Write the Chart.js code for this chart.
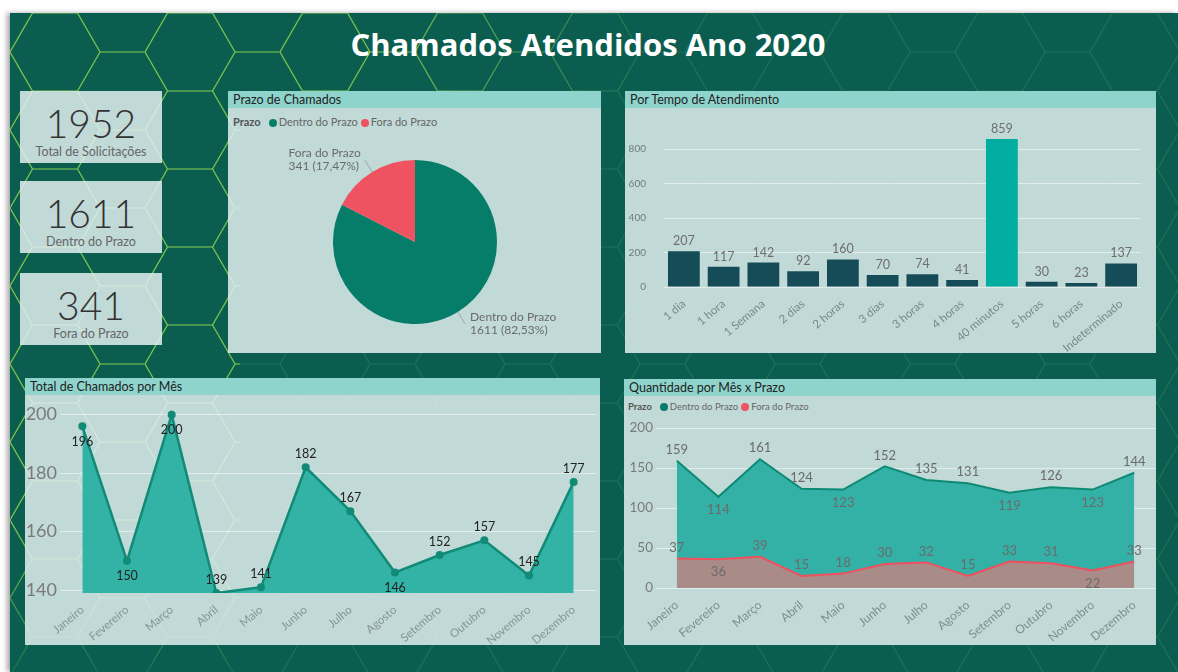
<!DOCTYPE html>
<html>
<head>
<meta charset="utf-8">
<script src="https://cdn.jsdelivr.net/npm/chart.js@4.4.1/dist/chart.umd.min.js"></script>
<style>
body { margin: 0; width: 1178px; height: 672px; background: #fff; overflow: hidden; position: relative; font-family: 'Segoe UI', Lato, sans-serif; }
#board { position: absolute; left: 10px; top: 13px; width: 1168px; height: 659px; background: #0b5e4f; box-shadow: -3px 0 5px rgba(0,0,0,0.35); }
.deco { position: absolute; }
#title { position: absolute; left: 0; top: 23px; width: 1176px; text-align: center; color: #fff; font: bold 31px 'Open Sans', sans-serif; }
.card, .panel { position: absolute; background: rgba(224, 239, 239, 0.86); }
.card .val { position: absolute; left: 0; width: 100%; text-align: center; font: 300 39px Lato, sans-serif; color: #333; top: 9px; }
.card .lbl { position: absolute; left: 0; width: 100%; text-align: center; font-size: 12.5px; color: #666; top: 53px; }
.panel .head { position: absolute; left: 0; top: 0; width: 100%; height: 17px; background: #8ed4cc; font-size: 12.5px; color: #222; line-height: 17px; text-indent: 5px; }
.legend { position: absolute; font-size: 11px; color: #666; white-space: nowrap; }
.legend b { color: #555; margin-right: 5px; }
.legend i { display: inline-block; width: 8px; height: 8px; border-radius: 50%; margin: 0 2px 0 3px; vertical-align: -0.5px; }
canvas { position: absolute; }
</style>
</head>
<body>
<div id="board"></div>
<div id="title">Chamados Atendidos Ano 2020</div>
<div id="cards"></div>

<div class="panel" style="left:228px;top:91px;width:373px;height:262px">
  <div class="head">Prazo de Chamados</div>
  <div class="legend" id="legPie" style="left:5px;top:24px"></div>
  <canvas id="pie" width="373" height="245" style="left:0;top:17px"></canvas>
</div>

<div class="panel" style="left:625px;top:91px;width:531px;height:262px">
  <div class="head">Por Tempo de Atendimento</div>
  <canvas id="bar" width="531" height="245" style="left:0;top:17px"></canvas>
</div>

<div class="panel" style="left:25px;top:378px;width:575px;height:267px">
  <div class="head">Total de Chamados por Mês</div>
  <canvas id="line" width="575" height="250" style="left:0;top:17px"></canvas>
</div>

<div class="panel" style="left:624px;top:379px;width:532px;height:266px">
  <div class="head">Quantidade por Mês x Prazo</div>
  <div class="legend" id="legArea" style="left:4px;top:22px;font-size:9.5px"></div>
  <canvas id="area" width="532" height="229" style="left:0;top:37px"></canvas>
</div>

<script>
const prazoLabels = ['Dentro do Prazo', 'Fora do Prazo'];
const prazoValues = [1611, 341];

const tempoLabels = ['1 dia', '1 hora', '1 Semana', '2 dias', '2 horas', '3 dias', '3 horas', '4 horas', '40 minutos', '5 horas', '6 horas', 'Indeterminado'];
const tempoValues = [207, 117, 142, 92, 160, 70, 74, 41, 859, 30, 23, 137];
const tempoTicks = [0, 200, 400, 600, 800];

const meses = ['Janeiro', 'Fevereiro', 'Março', 'Abril', 'Maio', 'Junho', 'Julho', 'Agosto', 'Setembro', 'Outubro', 'Novembro', 'Dezembro'];
const totalPorMes = [196, 150, 200, 139, 141, 182, 167, 146, 152, 157, 145, 177];
const totalTicks = [140, 160, 180, 200];
const dentroPorMes = [159, 114, 161, 124, 123, 152, 135, 131, 119, 126, 123, 144];
const foraPorMes = [37, 36, 39, 15, 18, 30, 32, 15, 33, 31, 22, 33];
const prazoTicks = [0, 50, 100, 150, 200];

const verde = '#067d68';
const vermelho = '#ef5261';

Chart.defaults.font.family = "'Segoe UI', Lato, sans-serif";
Chart.defaults.color = '#7c8b8b';
Chart.defaults.animation = false;

// background decoration
function hexUrl(color, op) {
    const svg = "<svg xmlns='http://www.w3.org/2000/svg' width='135' height='78'><path d='M90 39 L67.5 78 L22.5 78 L0 39 L22.5 0 L67.5 0 Z M90 39 L135 39' fill='none' stroke='" + color + "' stroke-opacity='" + op + "' stroke-width='1.2'/></svg>";
    return 'url("data:image/svg+xml,' + encodeURIComponent(svg) + '")';
}
document.getElementById('board').style.backgroundImage = hexUrl('#5fc07a', 0.2);
[[10, 13, 640, 80, 'linear-gradient(to right, #000 0%, #000 55%, transparent 100%)'],
 [10, 93, 230, 579, 'linear-gradient(to bottom, #000 0%, #000 75%, transparent 100%)']].forEach(b => {
    const d = document.createElement('div');
    d.className = 'deco';
    d.style.cssText = `left:${b[0]}px;top:${b[1]}px;width:${b[2]}px;height:${b[3]}px;`;
    d.style.backgroundImage = hexUrl('#8fd24a', 0.85);
    d.style.backgroundPosition = `${-(b[0] - 10)}px ${-(b[1] - 13)}px`;
    d.style.webkitMaskImage = b[4];
    d.style.maskImage = b[4];
    document.body.insertBefore(d, document.getElementById('title'));
});

// KPI cards
const total = prazoValues.reduce((a, b) => a + b, 0);
const kpis = [[total, 'Total de Solicitações'], [prazoValues[0], prazoLabels[0]], [prazoValues[1], prazoLabels[1]]];
const cardTops = [91, 181, 273];
kpis.forEach((k, i) => {
    const c = document.createElement('div');
    c.className = 'card';
    c.style.cssText = `left:20px;top:${cardTops[i]}px;width:142px;height:72px`;
    c.innerHTML = `<div class="val">${k[0]}</div><div class="lbl">${k[1]}</div>`;
    document.getElementById('cards').appendChild(c);
});

function legendHtml(id) {
    let html = '<b>Prazo</b>';
    prazoLabels.forEach((l, i) => {
        html += `<i style="background:${[verde, vermelho][i]}"></i>${l}`;
    });
    document.getElementById(id).innerHTML = html;
}
legendHtml('legPie');
legendHtml('legArea');

// labels over points / bars
const valueLabels = {
    id: 'valueLabels',
    afterDatasetsDraw(chart, args, opts) {
        const ctx = chart.ctx;
        chart.data.datasets.forEach((ds, i) => {
            const meta = chart.getDatasetMeta(i);
            const sides = (opts.sides && opts.sides[i]) || '';
            ctx.save();
            ctx.font = opts.font;
            ctx.fillStyle = opts.color;
            ctx.textAlign = 'center';
            ctx.textBaseline = 'middle';
            meta.data.forEach((el, j) => {
                const y = sides[j] === 'b' ? el.y + opts.below : el.y - opts.above;
                ctx.fillText(ds.data[j], el.x, y);
            });
            ctx.restore();
        });
    }
};

const pieLabels = {
    id: 'pieLabels',
    afterDatasetsDraw(chart) {
        const ctx = chart.ctx;
        const ds = chart.data.datasets[0];
        const sum = ds.data.reduce((a, b) => a + b, 0);
        chart.getDatasetMeta(0).data.forEach((arc, i) => {
            const mid = (arc.startAngle + arc.endAngle) / 2;
            const r = arc.outerRadius;
            const cx = Math.cos(mid), cy = Math.sin(mid);
            const x0 = arc.x + cx * r, y0 = arc.y + cy * r;
            const x1 = arc.x + cx * (r + 14), y1 = arc.y + cy * (r + 14);
            const right = cx >= 0;
            ctx.save();
            ctx.strokeStyle = '#9aa8a8';
            ctx.lineWidth = 1;
            ctx.beginPath();
            ctx.moveTo(x0, y0);
            ctx.lineTo(x1, y1);
            ctx.stroke();
            const pct = (ds.data[i] / sum * 100).toFixed(2).replace('.', ',');
            const lines = [chart.data.labels[i], ds.data[i] + ' (' + pct + '%)'];
            ctx.font = '12px ' + Chart.defaults.font.family;
            ctx.fillStyle = '#6b6b6b';
            ctx.textBaseline = 'middle';
            ctx.textAlign = 'left';
            const w = Math.max(...lines.map(l => ctx.measureText(l).width));
            const tx = right ? x1 + 5 : x1 - 4 - w;
            lines.forEach((l, k) => ctx.fillText(l, tx, y1 - 6.5 + k * 13));
            ctx.restore();
        });
    }
};

const gridColor = 'rgba(255,255,255,0.5)';

new Chart(document.getElementById('pie'), {
    type: 'pie',
    data: {
        labels: prazoLabels,
        datasets: [{ data: prazoValues, backgroundColor: [verde, vermelho], borderWidth: 0 }]
    },
    options: {
        responsive: false,
        layout: { padding: { left: 105, right: 104, top: 52, bottom: 29 } },
        plugins: { legend: { display: false }, tooltip: { enabled: false } }
    },
    plugins: [pieLabels]
});

const tempoMax = Math.max(...tempoValues);
new Chart(document.getElementById('bar'), {
    type: 'bar',
    data: {
        labels: tempoLabels,
        datasets: [{
            data: tempoValues,
            backgroundColor: tempoValues.map(v => v === tempoMax ? '#00ad9f' : '#164c58'),
            barPercentage: 0.8,
            categoryPercentage: 1
        }]
    },
    options: {
        responsive: false,
        layout: { padding: { left: 0, right: 15, top: 23, bottom: 0 } },
        plugins: {
            legend: { display: false }, tooltip: { enabled: false },
            valueLabels: { font: '12.5px ' + Chart.defaults.font.family, color: '#6e6e6e', above: 10 }
        },
        scales: {
            x: {
                grid: { display: false }, border: { display: false },
                ticks: { minRotation: 40, maxRotation: 40, font: { size: 11.5 }, color: '#7a8787', padding: 2 },
                afterFit: s => { s.height = 66; }
            },
            y: {
                min: 0, max: 900,
                grid: { color: gridColor, drawTicks: false }, border: { display: false },
                ticks: { font: { size: 10 }, color: '#6f7c7c', padding: 18 },
                afterBuildTicks: s => { s.ticks = tempoTicks.map(v => ({ value: v })); },
                afterFit: s => { s.width = 39; }
            }
        }
    },
    plugins: [valueLabels]
});

new Chart(document.getElementById('line'), {
    type: 'line',
    data: {
        labels: meses,
        datasets: [{
            data: totalPorMes,
            borderColor: '#118a76',
            backgroundColor: '#33b2a6',
            borderWidth: 2.5,
            fill: 'start',
            tension: 0,
            pointRadius: 4,
            pointBackgroundColor: '#118a76',
            pointBorderWidth: 0
        }]
    },
    options: {
        responsive: false,
        layout: { padding: { left: 0, right: 1, top: 8, bottom: 0 } },
        plugins: {
            legend: { display: false }, tooltip: { enabled: false },
            valueLabels: { font: '12.5px ' + Chart.defaults.font.family, color: '#222', above: 13, below: 15.5, sides: ['bbbaaaabaaaa'] }
        },
        scales: {
            x: {
                offset: true,
                grid: { display: false }, border: { display: false },
                ticks: { minRotation: 40, maxRotation: 40, font: { size: 11.5 }, color: '#879393', padding: 2 },
                afterFit: s => { s.height = 52; }
            },
            y: {
                min: 139, max: 202,
                grid: { color: gridColor, drawTicks: false }, border: { display: false },
                ticks: { font: { size: 18 }, color: '#7a7a7a', padding: 3 },
                afterBuildTicks: s => { s.ticks = totalTicks.map(v => ({ value: v })); },
                afterFit: s => { s.width = 35; }
            }
        }
    },
    plugins: [valueLabels]
});

new Chart(document.getElementById('area'), {
    type: 'line',
    data: {
        labels: meses,
        datasets: [{
            label: prazoLabels[0],
            data: dentroPorMes,
            borderColor: '#0e8a73',
            backgroundColor: '#34b1a7',
            borderWidth: 2,
            fill: 'origin',
            tension: 0,
            pointRadius: 0,
            order: 1
        }, {
            label: prazoLabels[1],
            data: foraPorMes,
            borderColor: '#f0505e',
            backgroundColor: '#a98c88',
            borderWidth: 2,
            fill: 'origin',
            tension: 0,
            pointRadius: 0,
            order: 0
        }]
    },
    options: {
        responsive: false,
        layout: { padding: { left: 0, right: 1, top: 12, bottom: 0 } },
        plugins: {
            legend: { display: false }, tooltip: { enabled: false },
            valueLabels: { font: '13px ' + Chart.defaults.font.family, color: '#6b6b6b', above: 11, below: 13, sides: ['abaabaaababa', 'abaaaaaaaaba'] }
        },
        scales: {
            x: {
                offset: true,
                grid: { display: false }, border: { display: false },
                ticks: { minRotation: 40, maxRotation: 40, font: { size: 12 }, color: '#7f8c8c', padding: 2 },
                afterFit: s => { s.height = 57; }
            },
            y: {
                min: 0, max: 200,
                grid: { color: gridColor, drawTicks: false }, border: { display: false },
                ticks: { font: { size: 13.5 }, color: '#7a7a7a', padding: 3 },
                afterBuildTicks: s => { s.ticks = prazoTicks.map(v => ({ value: v })); },
                afterFit: s => { s.width = 32; }
            }
        }
    },
    plugins: [valueLabels]
});
</script>
</body>
</html>
